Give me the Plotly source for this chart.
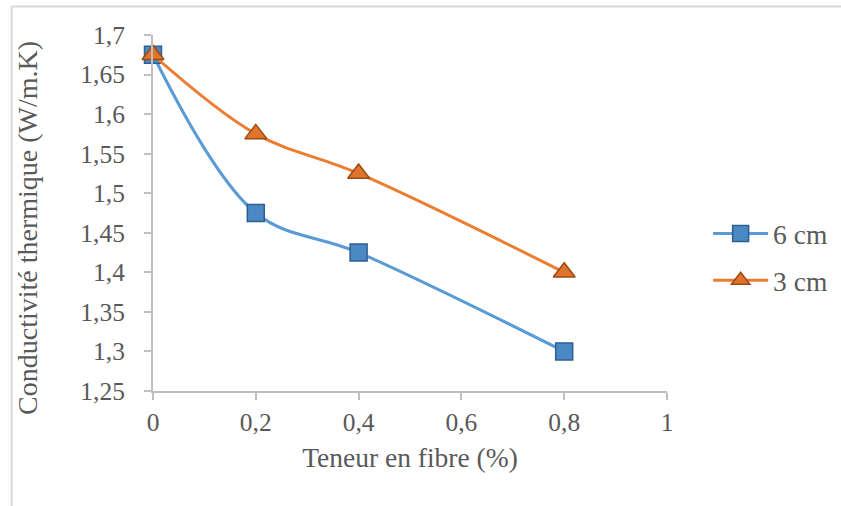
import plotly.graph_objects as go

x_vals = [0, 0.2, 0.4, 0.8]
y_6cm = [1.675, 1.475, 1.425, 1.3]
y_3cm = [1.675, 1.575, 1.525, 1.4]
x_ticks = [0, 0.2, 0.4, 0.6, 0.8, 1]
x_tick_text = ["0", "0,2", "0,4", "0,6", "0,8", "1"]
y_ticks = [1.25, 1.3, 1.35, 1.4, 1.45, 1.5, 1.55, 1.6, 1.65, 1.7]
y_tick_text = ["1,25", "1,3", "1,35", "1,4", "1,45", "1,5", "1,55", "1,6", "1,65", "1,7"]
x_title = "Teneur en fibre (%)"
y_title = "Conductivité thermique (W/m.K)"

FONT = "Liberation Serif, Times New Roman, serif"
GRAY = "#595959"
TICK_SIZE = 25.5
TITLE_SIZE = 27.5

fig = go.Figure()
fig.add_trace(go.Scatter(
    x=x_vals, y=y_6cm, name="6 cm", mode="lines+markers", legendgroup="a",
    line=dict(color="#5b9bd5", width=3, shape="spline", smoothing=1),
    marker=dict(symbol="square", size=17, color="#4a89c5",
                line=dict(color="#2e5f8f", width=1.5)),
))
fig.add_trace(go.Scatter(
    x=x_vals, y=y_3cm, name="3 cm", mode="lines+markers", legendgroup="b",
    line=dict(color="#ed7d31", width=3, shape="spline", smoothing=1),
    marker=dict(symbol="triangle-up", size=19, color="#e0742c",
                line=dict(color="#9c4a15", width=1.5)),
))

fig.update_layout(
    width=841, height=506,
    margin=dict(l=153, r=174, t=35, b=115, autoexpand=False),
    paper_bgcolor="white", plot_bgcolor="white",
    font=dict(family=FONT, size=TICK_SIZE, color=GRAY),
    showlegend=True,
    legend=dict(x=1.08, y=0.376, xanchor="left", yanchor="middle",
                font=dict(family=FONT, size=TITLE_SIZE, color=GRAY),
                itemwidth=55, tracegroupgap=8, bgcolor="rgba(0,0,0,0)"),
    xaxis=dict(range=[0, 1], tickvals=x_ticks, ticktext=x_tick_text,
               showgrid=False, zeroline=False, showline=True,
               linecolor="#bfbfbf", linewidth=2, ticks="outside",
               ticklen=7, tickwidth=2, tickcolor="#bfbfbf",
               ticklabelstandoff=0, automargin=False,
               tickfont=dict(family=FONT, size=TICK_SIZE, color=GRAY),
               title=dict(text=x_title, standoff=12,
                          font=dict(family=FONT, size=TITLE_SIZE, color=GRAY))),
    yaxis=dict(range=[1.25, 1.7], tickvals=y_ticks, ticktext=y_tick_text,
               showgrid=False, zeroline=False, showline=True,
               linecolor="#bfbfbf", linewidth=2, ticks="outside",
               ticklen=7, tickwidth=2, tickcolor="#bfbfbf",
               ticklabelstandoff=14, automargin=False,
               tickfont=dict(family=FONT, size=TICK_SIZE, color=GRAY)),
    annotations=[
        dict(text=y_title, xref="paper", yref="paper", x=-0.2433, y=0.458,
             xanchor="center", yanchor="middle", textangle=-90, showarrow=False,
             font=dict(family=FONT, size=28, color=GRAY)),
    ],
    shapes=[
        dict(type="line", xref="paper", yref="paper", x0=-0.275, x1=-0.275,
             y0=1.08, y1=-0.35, line=dict(color="#d9d9d9", width=2)),
        dict(type="line", xref="paper", yref="paper", x0=-0.275, x1=1.34,
             y0=1.08, y1=1.08, line=dict(color="#d9d9d9", width=2)),
    ],
)
for tr in fig.data:
    tr.cliponaxis = False

fig.write_html("out.html", config={"displayModeBar": False},
               post_script="document.body.style.margin='0px';")
